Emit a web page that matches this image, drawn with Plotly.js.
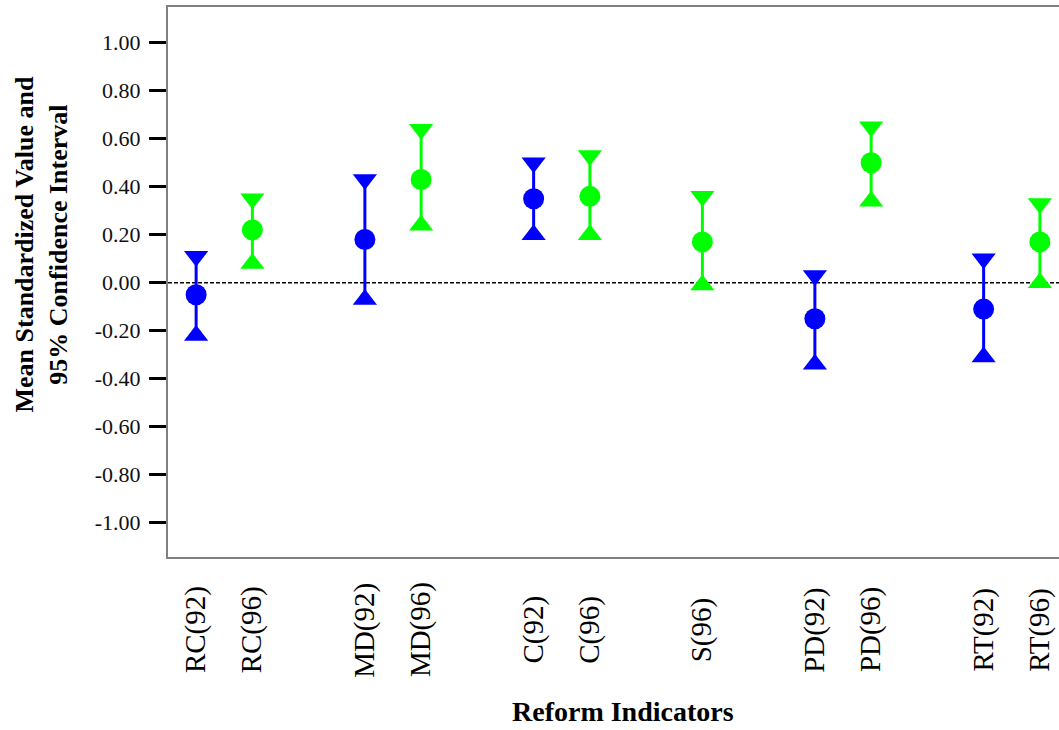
<!DOCTYPE html>
<html>
<head>
<meta charset="utf-8">
<script src="https://cdn.plot.ly/plotly-3.0.1.min.js"></script>
<style>
  html, body { margin: 0; padding: 0; overflow: hidden; background: #ffffff; }
  #chart { width: 1075px; height: 730px; }
</style>
</head>
<body>
<div id="chart"></div>
<script>
// Reform indicators, grouped by indicator (survey years 1992 and 1996)
const groups = [
  ['RC(92)', 'RC(96)'],
  ['MD(92)', 'MD(96)'],
  ['C(92)', 'C(96)'],
  ['S(96)'],
  ['PD(92)', 'PD(96)'],
  ['RT(92)', 'RT(96)']
];

// Mean standardized value and 95% confidence bounds per indicator
const labels = ['RC(92)', 'RC(96)', 'MD(92)', 'MD(96)', 'C(92)', 'C(96)', 'S(96)', 'PD(92)', 'PD(96)', 'RT(92)', 'RT(96)'];
const means  = [-0.05, 0.22, 0.18, 0.43, 0.35, 0.36, 0.17, -0.15, 0.50, -0.11, 0.17];
const upper  = [ 0.11, 0.35, 0.43, 0.64, 0.50, 0.53, 0.36,  0.03, 0.65,  0.10, 0.33];
const lower  = [-0.22, 0.08, -0.07, 0.24, 0.20, 0.20, -0.01, -0.34, 0.34, -0.31, 0.00];

const yTicks = [1.0, 0.8, 0.6, 0.4, 0.2, 0.0, -0.2, -0.4, -0.6, -0.8, -1.0];

const yearColor = { '92': '#0000ff', '96': '#00ff00' };
const serif = 'Liberation Serif, Times New Roman, serif';

// Category order with a blank spacer slot between indicator groups
const categoryOrder = [];
groups.forEach((g, i) => {
  if (i > 0) categoryOrder.push('\u200b'.repeat(i));
  g.forEach(c => categoryOrder.push(c));
});

// One trace per survey year: upper bound, mean, lower bound joined by a line
const traces = Object.keys(yearColor).map(year => {
  const xs = [], ys = [], syms = [];
  labels.forEach((lab, i) => {
    if (!lab.includes('(' + year + ')')) return;
    xs.push(lab, lab, lab, null);
    ys.push(upper[i], means[i], lower[i], null);
    syms.push('triangle-down', 'circle', 'triangle-up', 'circle');
  });
  return {
    type: 'scatter',
    mode: 'lines+markers',
    x: xs,
    y: ys,
    connectgaps: false,
    cliponaxis: false,
    line: { color: yearColor[year], width: 3 },
    marker: { color: yearColor[year], size: 21, symbol: syms, line: { width: 0 } },
    hoverinfo: 'x+y',
    showlegend: false
  };
});

// Indicator labels, rotated and centred under each category
const labelAnnotations = labels.map(lab => ({
  x: lab, xref: 'x',
  y: -0.1327, yref: 'paper',
  text: lab,
  textangle: -90,
  showarrow: false,
  xanchor: 'center', yanchor: 'middle',
  font: { family: serif, size: 29, color: '#000000' }
}));

const layout = {
  width: 1075,
  height: 730,
  margin: { l: 168, r: 7, t: 7, b: 173 },
  paper_bgcolor: '#ffffff',
  plot_bgcolor: '#ffffff',
  xaxis: {
    type: 'category',
    categoryorder: 'array',
    categoryarray: categoryOrder,
    range: [-0.5, categoryOrder.length - 0.5],
    showticklabels: false,
    ticks: '',
    showgrid: false,
    zeroline: false,
    showline: true,
    mirror: true,
    linecolor: '#808080',
    linewidth: 2,
    fixedrange: true
  },
  yaxis: {
    range: [-1.143, 1.149],
    tickvals: yTicks,
    ticktext: yTicks.map(v => v.toFixed(2)),
    ticks: 'outside',
    ticklen: 17,
    tickwidth: 3,
    tickcolor: '#000000',
    ticklabelstandoff: 4,
    tickfont: { family: serif, size: 22, color: '#111111' },
    showgrid: false,
    zeroline: false,
    showline: true,
    mirror: true,
    linecolor: '#808080',
    linewidth: 2,
    fixedrange: true
  },
  shapes: [{
    type: 'line', layer: 'below',
    xref: 'paper', x0: 0, x1: 1,
    yref: 'y', y0: 0, y1: 0,
    line: { color: '#000000', width: 1.5, dash: '4px,2px' }
  }],
  annotations: labelAnnotations.concat([
    {
      x: -0.1406, xref: 'paper', y: 0.569, yref: 'paper',
      text: 'Mean Standardized Value and<br>95% Confidence Interval',
      textangle: -90, showarrow: false,
      xanchor: 'center', yanchor: 'middle',
      font: { family: serif, size: 26, color: '#000000', weight: 'bold' }
    },
    {
      x: 0.506, xref: 'paper', y: -0.2818, yref: 'paper',
      text: 'Reform Indicators',
      showarrow: false,
      xanchor: 'center', yanchor: 'middle',
      font: { family: serif, size: 28, color: '#000000', weight: 'bold' }
    }
  ])
};

Plotly.newPlot('chart', traces, layout, { displayModeBar: false, staticPlot: true });
</script>
</body>
</html>
